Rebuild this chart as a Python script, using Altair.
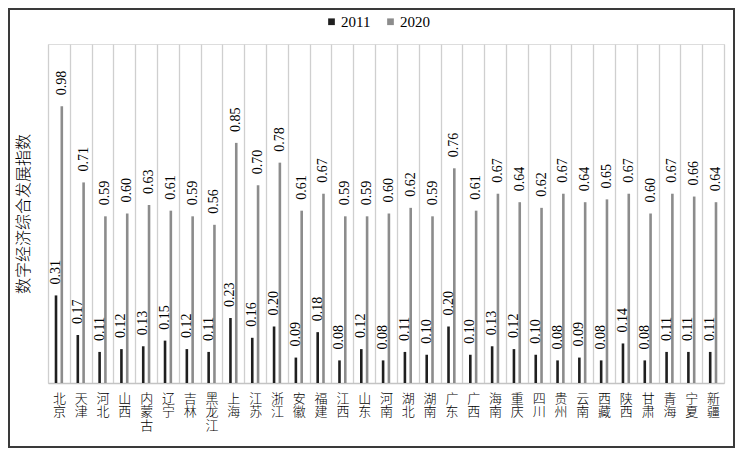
import altair as alt
import pandas as pd

provinces = ["北京", "天津", "河北", "山西", "内蒙古", "辽宁", "吉林", "黑龙江", "上海", "江苏",
             "浙江", "安徽", "福建", "江西", "山东", "河南", "湖北", "湖南", "广东", "广西",
             "海南", "重庆", "四川", "贵州", "云南", "西藏", "陕西", "甘肃", "青海", "宁夏", "新疆"]
v2011 = [0.31, 0.17, 0.11, 0.12, 0.13, 0.15, 0.12, 0.11, 0.23, 0.16,
         0.20, 0.09, 0.18, 0.08, 0.12, 0.08, 0.11, 0.10, 0.20, 0.10,
         0.13, 0.12, 0.10, 0.08, 0.09, 0.08, 0.14, 0.08, 0.11, 0.11, 0.11]
v2020 = [0.98, 0.71, 0.59, 0.60, 0.63, 0.61, 0.59, 0.56, 0.85, 0.70,
         0.78, 0.61, 0.67, 0.59, 0.59, 0.60, 0.62, 0.59, 0.76, 0.61,
         0.67, 0.64, 0.62, 0.67, 0.64, 0.65, 0.67, 0.60, 0.67, 0.66, 0.64]
years = ["2011", "2020"]
colors = ["#1f1f1f", "#8c8c8c"]
y_title = "数字经济综合发展指数"

rows = []
for p, a, b in zip(provinces, v2011, v2020):
    rows.append({"省份": p, "年份": years[0], "值": a})
    rows.append({"省份": p, "年份": years[1], "值": b})
df = pd.DataFrame(rows)

W, H = 676, 339
serif = "Liberation Serif, Noto Sans CJK SC"

x_enc = alt.X("省份:N", sort=provinces, title=None,
              scale=alt.Scale(paddingInner=0, paddingOuter=0),
              axis=alt.Axis(labelAngle=0, labelExpr="split(datum.label, '')",
                            labelFont=serif, labelFontSize=13, labelLineHeight=13.5,
                            labelFontWeight=300,
                            labelColor="#000000", labelBaseline="top", labelPadding=9,
                            ticks=False, domainColor="#c4c4c4", domainWidth=1.5,
                            grid=True, tickBand="extent", gridColor="#cfcfcf", gridWidth=1.3))
xo_enc = alt.XOffset("年份:N", sort=years, scale=alt.Scale(paddingInner=0, paddingOuter=0.88))
y_enc = alt.Y("值:Q", scale=alt.Scale(domain=[0, 1.2], nice=False),
              axis=alt.Axis(title=y_title, labels=False, ticks=False, domain=False, grid=False,
                            titleFont=serif, titleFontSize=16, titleFontWeight=300,
                            titleColor="#000000", titlePadding=17))

base = alt.Chart(df)
bars = base.mark_bar(size=2.6).encode(
    x=x_enc, xOffset=xo_enc, y=y_enc,
    color=alt.Color("年份:N", sort=years, scale=alt.Scale(domain=years, range=colors),
                    legend=alt.Legend(title=None, orient="none", direction="horizontal",
                                      legendX=276, legendY=-30, symbolType="square",
                                      symbolSize=45, symbolStrokeWidth=0,
                                      labelFont=serif, labelFontSize=15, labelColor="#000000",
                                      labelOffset=2, columnPadding=12)),
)
labels = base.mark_text(angle=270, align="left", baseline="middle", dx=11,
                        font=serif, fontSize=14, color="#000000").encode(
    x=alt.X("省份:N", sort=provinces), xOffset=alt.XOffset("年份:N", sort=years),
    y=alt.Y("值:Q"), text=alt.Text("值:Q", format=".2f"),
)
border = alt.Chart(pd.DataFrame({"a": [0]})).mark_rect(
    fill="transparent", stroke="#3a3a3a", strokeWidth=2).encode(
    x=alt.value(-39), x2=alt.value(W + 10), y=alt.value(-35), y2=alt.value(H + 64))

chart = alt.layer(bars, labels, border).properties(
    width=W, height=H,
    padding={"left": 40, "top": 36, "right": 11, "bottom": 65},
    autosize=alt.AutoSizeParams(type="none"),
).configure_view(stroke=None).configure(background="white")

chart.save("out.html", embed_options={"renderer": "svg", "actions": False})
